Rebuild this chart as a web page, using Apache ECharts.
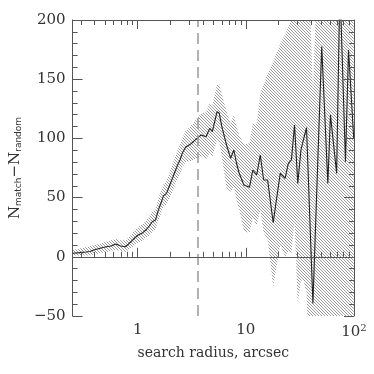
<!DOCTYPE html>
<html>
<head>
<meta charset="utf-8">
<script src="https://cdn.jsdelivr.net/npm/echarts@6/dist/echarts.min.js"></script>
<style>
  html, body { margin: 0; padding: 0; background: #fff; }
  #chart { width: 374px; height: 374px; }
</style>
</head>
<body>
<div id="chart"></div>
<script>
// search radius (arcsec)
var radius = [0.252, 0.290, 0.332, 0.362, 0.393, 0.450, 0.514, 0.568, 0.628, 0.695, 0.769, 0.824,
  0.911, 1.01, 1.115, 1.19, 1.28, 1.365, 1.46, 1.56, 1.65, 1.73, 1.85, 1.98, 2.11, 2.18, 2.34, 2.47,
  2.58, 2.77, 3.06, 3.27, 3.62, 3.87, 4.28, 4.64, 4.90, 5.42, 5.68, 6.00, 6.63, 7.24, 7.75, 8.20,
  8.68, 9.60, 10.8, 11.6, 12.6, 13.6, 14.6, 15.9, 17.9, 20.8, 23.1, 24.7, 26.4, 28.2, 30.2, 32.3,
  34.1, 36.4, 41.7, 50.3, 57.3, 60.6, 69.1, 74.1, 83.4, 89.0, 99.4];
// N_match - N_random
var nDiff = [3, 3.5, 4, 4.5, 5.7, 7.2, 8.5, 9.1, 10.8, 9.1, 8.5, 10.8,
  14.8, 18.4, 20.4, 22.6, 26, 29.6, 31, 40, 46, 51.4, 53.6, 60.6, 67, 70.5, 77.5, 82,
  87.4, 92.5, 95, 97.2, 100.9, 102.9, 101.4, 108.5, 105.7, 122.6, 121.2, 110, 94.4, 83.2, 90.2, 79,
  70.5, 60.6, 58.7, 73.3, 69.1, 86, 64.9, 64.9, 28.8, 70.5, 66.3, 79, 81.8, 111.3, 62, 90,
  99, 109, -39.5, 177.5, 62, 119.8, 70.5, 230, 80.3, 174.7, 100];
// hatched band edges
var bandHi = [6, 7, 8, 9, 10, 11, 13, 14, 15, 14, 14, 16,
  21, 25, 28, 30, 34, 38, 40, 50, 56, 61, 64, 72, 79, 82, 90, 95,
  100, 106, 110, 113, 118, 121, 122, 130, 128, 146, 146, 137, 123, 113, 120, 110,
  103, 95, 96, 113, 112, 138, 145, 155, 165, 180, 188, 194, 201, 250, 240, 270,
  280, 300, 140, 350, 240, 300, 250, 400, 260, 350, 280];
var bandLo = [1, 1, 1, 1, 2, 3, 4, 5, 6, 5, 4, 6,
  9, 12, 14, 16, 18, 21, 23, 31, 37, 42, 44, 50, 56, 59, 66, 70,
  75, 80, 81, 82, 84, 85, 82, 88, 84, 99, 97, 84, 58, 55, 60, 48,
  40, 22, 20, 33, 26, 40, 20, 15, -25, 10, 0, 5, 3, 30, -40, -20,
  -20, -30, -200, -60, -100, -70, -100, -60, -100, -60, -80];
var xMajorTicks = [1, 10, 100];
var xMinorTicks = [0.3, 0.4, 0.5, 0.6, 0.7, 0.8, 0.9, 2, 3, 4, 5, 6, 7, 8, 9,
  20, 30, 40, 50, 60, 70, 80, 90];
var cutRadius = 3.6;

// hatch pattern
var tile = document.createElement('canvas');
tile.width = 3; tile.height = 3;
var tctx = tile.getContext('2d');
tctx.fillStyle = '#9a9a9a';
for (var i = 0; i < 3; i++) tctx.fillRect(i, i, 1, 1);

var axisColor = '#555';
var serif = 'DejaVu Serif';

function pairs(ys) {
  return radius.map(function (x, i) { return [x, ys[i]]; });
}

function xAxisDef(pos, ticks, len, showLine, showLabel, extra) {
  var a = {
    type: 'log', min: 0.25, max: 100, position: pos, z: 10,
    axisLine: { show: showLine, lineStyle: { color: axisColor, width: 1 } },
    axisTick: { show: true, inside: true, length: len, customValues: ticks,
      lineStyle: { color: axisColor, width: 1 } },
    axisLabel: { show: false },
    splitLine: { show: false }
  };
  if (showLabel) {
    a.axisLabel = {
      show: true, customValues: xMajorTicks, margin: 7,
      color: '#333', fontFamily: serif, fontSize: 15,
      formatter: function (v) {
        if (v >= 99) return '10{sup|2}';
        return String(Math.round(v));
      },
      rich: { sup: { fontFamily: serif, fontSize: 10, verticalAlign: 'top', padding: [0, 0, 8, 0] } }
    };
  }
  return Object.assign(a, extra || {});
}

function yAxisDef(pos, showLabel, extra) {
  return Object.assign({
    type: 'value', min: -50, max: 200, interval: 50, position: pos, z: 10,
    axisLine: { show: true, lineStyle: { color: axisColor, width: 1 } },
    axisTick: { show: true, inside: true, length: 10, lineStyle: { color: axisColor } },
    minorTick: { show: true, splitNumber: 5, length: 5, lineStyle: { color: axisColor } },
    axisLabel: { show: showLabel, color: '#333', fontFamily: serif, fontSize: 15, margin: 7,
      formatter: function (v) { return String(v).replace('-', '\u2212'); } },
    splitLine: { show: false }
  }, extra || {});
}

// hatched band as one polygon: upper edge forward, lower edge back
function renderBand(params, api) {
  var pts = [];
  for (var i = 0; i < radius.length; i++) pts.push(api.coord([radius[i], bandHi[i]]));
  for (var j = radius.length - 1; j >= 0; j--) pts.push(api.coord([radius[j], bandLo[j]]));
  return {
    type: 'polygon',
    shape: { points: pts },
    style: { fill: { image: tile, repeat: 'repeat' }, stroke: null }
  };
}

var chart = echarts.init(document.getElementById('chart'));
chart.setOption({
  animation: false,
  grid: { left: 58, right: 20, top: 20, bottom: 58 },
  xAxis: [
    xAxisDef('bottom', xMajorTicks, 9, true, true, {
      name: 'search radius, arcsec', nameLocation: 'middle', nameGap: 30,
      nameTextStyle: { fontFamily: serif, fontSize: 14, color: '#333' }
    }),
    xAxisDef('bottom', xMinorTicks, 5, false, false),
    xAxisDef('top', xMajorTicks, 9, true, false),
    xAxisDef('top', xMinorTicks, 5, false, false)
  ],
  yAxis: [
    yAxisDef('left', true, {
      name: '{n|N}{s|match}{n|\u2212N}{s|random}', nameLocation: 'middle', nameGap: 43,
      nameTextStyle: {
        rich: {
          n: { fontFamily: serif, fontSize: 15, color: '#333' },
          s: { fontFamily: 'DejaVu Sans', fontSize: 9, color: '#333', verticalAlign: 'bottom', padding: [6, 0, 0, 0] }
        }
      }
    }),
    yAxisDef('right', false)
  ],
  series: [
    {
      type: 'custom', data: [[radius[0], bandHi[0]]], renderItem: renderBand,
      clip: true, silent: true, z: 1
    },
    {
      type: 'line', data: pairs(nDiff), symbol: 'none', silent: true, z: 3,
      lineStyle: { color: '#222', width: 1.1 },
      markLine: {
        silent: true, symbol: 'none', label: { show: false },
        data: [
          { yAxis: 0, lineStyle: { color: '#444', width: 1, type: 'solid' } },
          { xAxis: cutRadius, lineStyle: { color: '#999', width: 1.5, type: [11, 6] } }
        ]
      }
    }
  ]
});
</script>
</body>
</html>
